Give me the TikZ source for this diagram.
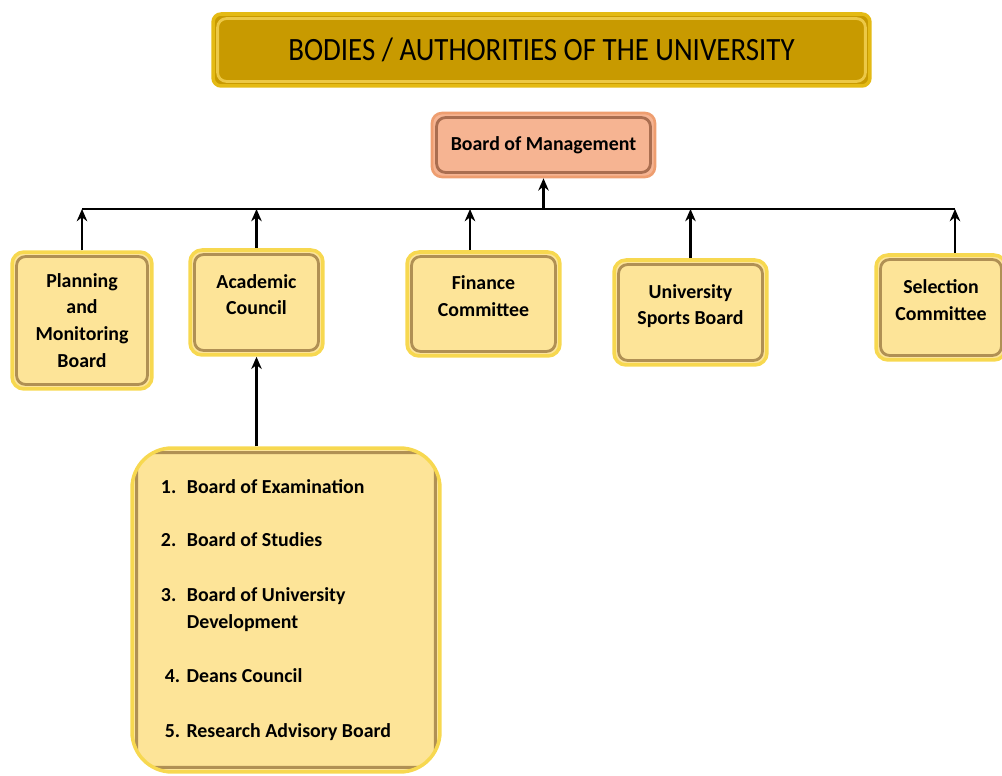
\documentclass[tikz,border=0pt]{standalone}
\usepackage{fontspec}
\usepackage{graphicx}
\setmainfont{Carlito}
\usetikzlibrary{positioning, arrows.meta}
\definecolor{bodyfill}{RGB}{253,228,152}
\definecolor{bodyrim}{RGB}{247,216,80}
\definecolor{bodybevel}{RGB}{176,144,84}
\definecolor{titlefill}{RGB}{200,154,0}
\definecolor{titlerim}{RGB}{228,186,20}
\definecolor{titleline}{RGB}{236,200,70}
\definecolor{mgmtfill}{RGB}{246,180,146}
\definecolor{mgmtrim}{RGB}{238,158,112}
\definecolor{mgmtbevel}{RGB}{170,110,80}
\newcommand{\unitfont}{\fontsize{11.3}{15.3}\selectfont\bfseries}
\tikzset{
x=0.02cm, y=-0.02cm, % one unit is one pixel of the sketch
>={Stealth[length=7pt, width=6pt]}, % small solid arrow heads
link/.style={line width=1.5pt}, % every connector
bevel/.style={path picture={\draw[draw=#1, line width=1.6pt, rounded corners=5pt]
  ([shift={(2.6pt,2.6pt)}]path picture bounding box.south west) rectangle
  ([shift={(-2.6pt,-2.6pt)}]path picture bounding box.north east);}}, % inner frame
body/.style={draw=bodyrim, line width=2pt, fill=bodyfill, bevel=bodybevel,
  rounded corners=0.24cm, align=center, font=\unitfont}, % the yellow boxes
lifted/.style={text depth=9pt}, % text sits a bit above the middle
}

\begin{document}
\begin{tikzpicture}
\useasboundingbox (0,0) rectangle (1002,776);
\clip (0,0) rectangle (1002,776);

% heading and top body
\node[draw=titlerim, line width=2pt, fill=titlefill, bevel=titleline, rounded corners=0.16cm,
  minimum width=13.14cm, minimum height=1.44cm, font=\fontsize{18.5}{22}\selectfont]
  (title) at (541.5,50) {\scalebox{0.89}[1]{BODIES / AUTHORITIES OF THE UNIVERSITY}};
\node[draw=mgmtrim, line width=1.5pt, fill=mgmtfill, bevel=mgmtbevel, rounded corners=0.2cm,
  minimum width=4.46cm, minimum height=1.28cm, font=\unitfont]
  (mgmt) at (543.5,145) {Board of Management};

% the five bodies
\node[body, minimum width=2.8cm, minimum height=2.74cm] (plan) at (82,320.5) {Planning\\and\\Monitoring\\Board};
\node[body, lifted, minimum width=2.66cm, minimum height=2.1cm] (acad) at (256.5,302.5) {Academic\\Council};
\node[body, lifted, minimum width=3.06cm, minimum height=2.08cm] (fin) at (483.5,304) {Finance\\Committee};
\node[body, lifted, minimum width=3.06cm, minimum height=2.1cm] (sport) at (690.5,312.5) {University\\Sports Board};
\node[body, lifted, minimum width=2.6cm, minimum height=2.1cm] (sel) at (941,307.5) {Selection\\Committee};

% boards under the academic council
\node[draw=bodyrim, line width=2pt, fill=bodyfill, bevel=bodybevel, rounded corners=0.8cm,
  minimum width=6.16cm, minimum height=6.48cm, font=\unitfont] (list) at (286,610)
  {\begin{tabular}{@{}l@{\hspace{6pt}}l@{}}
  1. & Board of Examination\\[15.2pt]
  2. & Board of Studies\\[15.7pt]
  3. & Board of University\\
     & Development\\[15.9pt]
  \multicolumn{2}{@{}l@{}}{\hspace{2.2pt}4.\hspace{3.6pt}Deans Council}\\[15.9pt]
  \multicolumn{2}{@{}l@{}}{\hspace{2.2pt}5.\hspace{3.6pt}Research Advisory Board}
  \end{tabular}\rule{0.4cm}{0pt}};

% connectors
\coordinate (bus) at (0,209);
\coordinate (finfoot) at ([xshift=-0.27cm]fin.north);
\coordinate (selfoot) at ([xshift=0.28cm]sel.north);
\draw[link] (plan.north |- bus) -- (selfoot |- bus);
\draw[link, ->] (mgmt.south |- bus) -- (mgmt.south);
\foreach \n in {plan.north, acad.north, finfoot, sport.north, selfoot}
  \draw[link, ->] (\n) -- (\n |- bus);
\draw[link, ->] (acad.south |- list.north) -- (acad.south);
\end{tikzpicture}
\end{document}
